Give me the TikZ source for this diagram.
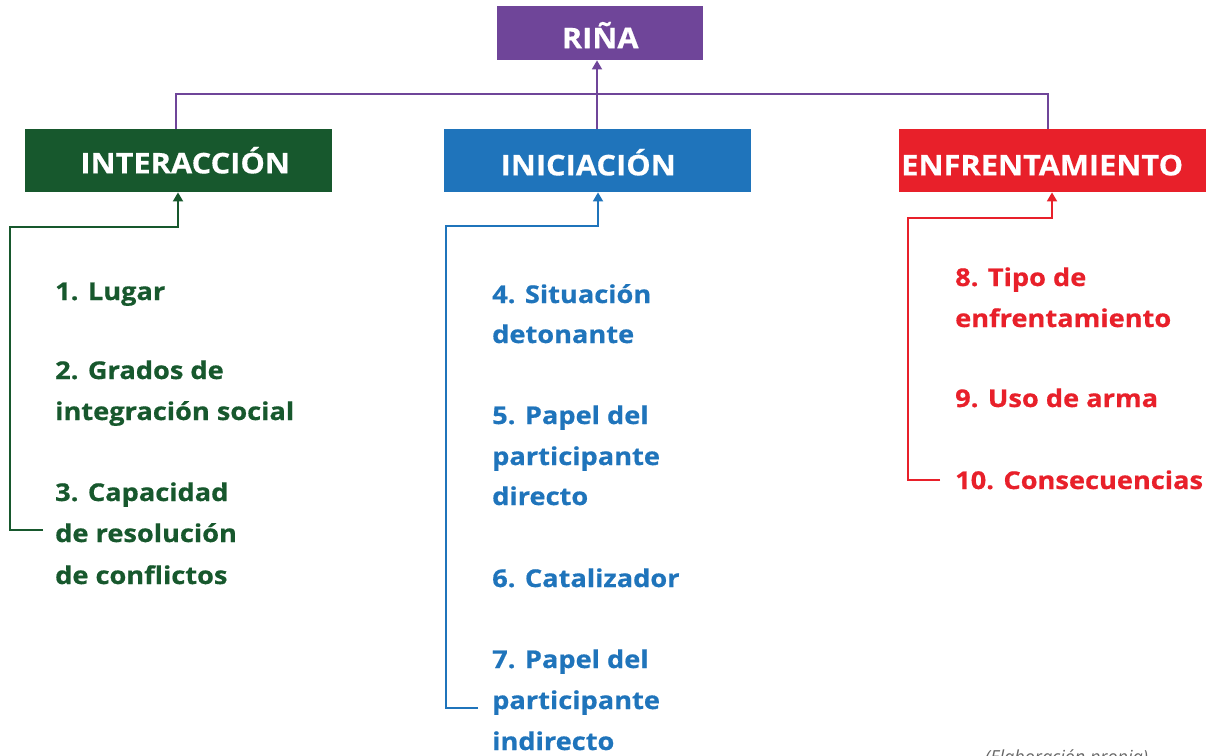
\documentclass[tikz,border=0pt]{standalone}
\usepackage{fontspec}
\setmainfont{Open Sans}
\newfontfamily\itemfont[FakeStretch=1.11,BoldFeatures={FakeBold=0.6}]{Open Sans}
\newfontfamily\headfont[FakeStretch=1.08,BoldFeatures={FakeBold=0.5}]{Open Sans}
\usetikzlibrary{arrows.meta}
\definecolor{cpurple}{HTML}{6F4599}
\definecolor{cgreen}{HTML}{17582D}
\definecolor{cblue}{HTML}{1F74BB}
\definecolor{cred}{HTML}{E8202A}
\definecolor{cgray}{HTML}{666666}
\tikzset{
  head/.style={fill=#1, text=white, font=\headfont\fontsize{28.5}{34}\selectfont\bfseries, minimum width=307pt, minimum height=63pt, inner sep=0pt, anchor=north west, text depth=0pt},
  item/.style={text=#1, font=\itemfont\fontsize{24.5}{30}\selectfont\bfseries, anchor=base west, inner sep=0pt},
  conn/.style={draw=#1, line width=1.8pt},
  tip/.style={-{Triangle[width=10pt,length=9pt]}},
}
\begin{document}
\begin{tikzpicture}[x=1pt,y=-1pt]
\clip (0,0) rectangle (1210,755);
\fill[white] (0,0) rectangle (1210,755);
% boxes
\node[fill=cpurple, text=white, font=\headfont\fontsize{28.5}{34}\selectfont\bfseries, minimum width=206pt, minimum height=54pt, inner sep=0pt, anchor=north west, text height=30pt, text depth=0pt] (rina) at (497,6) {RIÑA};
\node[head=cgreen, text height=25.4pt] (inter) at (25,129) {\kern13pt INTERACCIÓN};
\node[head=cblue, text height=29.4pt] (inic) at (444,129) {INICIACIÓN\kern19pt};
\node[head=cred, text height=29.4pt] (enfr) at (899,129) {ENFRENTAMIENTO\kern21pt};
% purple connectors
\coordinate (pl) at (176,94);
\coordinate (pr) at (1048,94);
\draw[conn=cpurple] (inter.north -| pl) -- (pl) -- (pr) -- (enfr.north -| pr);
\draw[conn=cpurple, tip] (inic.north -| 597,0) -- (rina.south -| 597,0);
% green
\coordinate (g1) at (43,530);
\coordinate (g2) at (10,530);
\coordinate (g3) at (10,227);
\coordinate (g4) at (178,227);
\draw[conn=cgreen, tip] (g1) -- (g2) -- (g3) -- (g4) -- (inter.south -| g4);
% blue
\coordinate (b1) at (478,708);
\coordinate (b2) at (446,708);
\coordinate (b3) at (446,226);
\coordinate (b4) at (598,226);
\draw[conn=cblue, tip] (b1) -- (b2) -- (b3) -- (b4) -- (inic.south -| b4);
% red
\coordinate (r1) at (940,480);
\coordinate (r2) at (908,480);
\coordinate (r3) at (908,218);
\coordinate (r4) at (1052,218);
\draw[conn=cred, tip] (r1) -- (r2) -- (r3) -- (r4) -- (enfr.south -| r4);
% green items
\node[item=cgreen] (g1a) at (55,300) {1. Lugar};
\node[item=cgreen] (g2a) at (55,379) {2. Grados de};
\node[item=cgreen] (g2b) at (55,420) {integración social};
\node[item=cgreen] (g3a) at (55,501) {3. Capacidad};
\node[item=cgreen] (g3b) at (55,542) {de resolución};
\node[item=cgreen] (g3c) at (55,584) {de conflictos};
% blue items
\node[item=cblue] (b4a) at (492,303) {4. Situación};
\node[item=cblue] (b4b) at (492,343) {detonante};
\node[item=cblue] (b5a) at (492,424) {5. Papel del};
\node[item=cblue] (b5b) at (492,465) {participante};
\node[item=cblue] (b5c) at (492,505) {directo};
\node[item=cblue] (b6a) at (492,587) {6. Catalizador};
\node[item=cblue] (b7a) at (492,668) {7. Papel del};
\node[item=cblue] (b7b) at (492,709) {participante};
\node[item=cblue] (b7c) at (492,750) {indirecto};
% red items
\node[item=cred] (r8a) at (955,286) {8. Tipo de};
\node[item=cred] (r8b) at (955,327) {enfrentamiento};
\node[item=cred] (r9a) at (955,407) {9. Uso de arma};
\node[item=cred] (r10a) at (955,489) {10. Consecuencias};
% caption
\node[text=cgray, font=\fontsize{18}{22}\selectfont\itshape, anchor=base west, inner sep=0pt] (cap) at (985,763) {(Elaboración propia)};
\end{tikzpicture}
\end{document}
